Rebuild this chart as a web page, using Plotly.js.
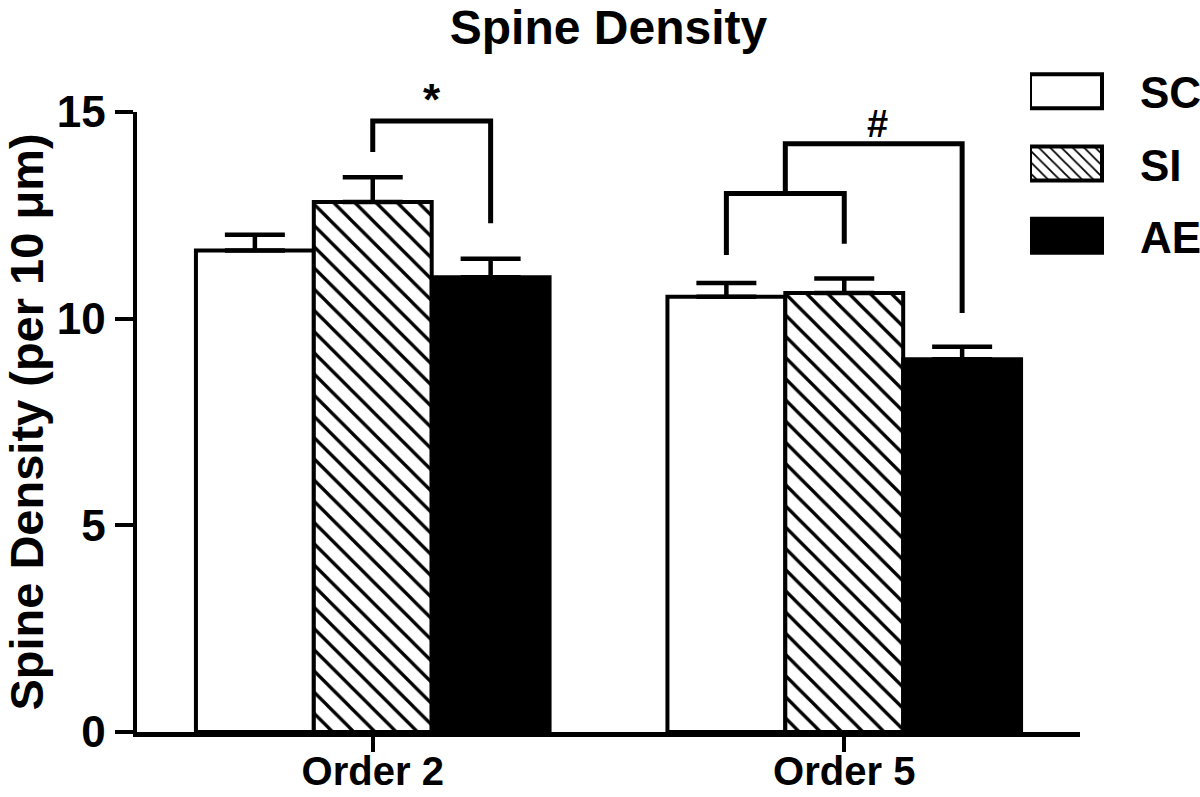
<!DOCTYPE html>
<html>
<head>
<meta charset="utf-8">
<script src="https://cdn.plot.ly/plotly-3.0.1.min.js"></script>
<style>html,body{margin:0;padding:0;background:#fff;}#chart{width:1200px;height:797px;}</style>
</head>
<body>
<div id="chart"></div>
<script>
// ---- data ----
const categories = ['Order 2', 'Order 5'];
const catPos = [0, 1];
const groupNames = ['SC', 'SI', 'AE'];
const scMean = [11.65, 10.53];
const scErr = [0.38, 0.33];
const siMean = [12.82, 10.62];
const siErr = [0.60, 0.35];
const aeMean = [11.00, 9.02];
const aeErr = [0.45, 0.30];
const yTicks = [0, 5, 10, 15];
const yMax = 15;

// significance brackets: [x0, x1, yLeftEnd, yTop, yRightEnd]
const brackets = [
  [0.00, 0.25, 14.03, 14.78, 12.31],
  [0.75, 1.00, 11.54, 13.03, 11.81],
  [0.875, 1.25, 13.03, 14.23, 10.14]
];
const sigLabels = ['*', '#'];
const sigX = [0.125, 1.07];
const sigY = [15.3, 14.72];

const FONT = 'Liberation Sans, Arial, sans-serif';
const zeros = [0, 0];

function barTrace(name, y, err, color, pattern) {
  const t = {
    type: 'bar', name: name, legendgroup: name, x: catPos, y: y,
    marker: {color: color, line: {color: '#000', width: 4}},
    error_y: {type: 'data', array: err, arrayminus: zeros, symmetric: false,
              color: '#000', thickness: 4.5, width: 30},
    hoverinfo: 'none'
  };
  if (pattern) t.marker.pattern = pattern;
  return t;
}

const traces = [
  barTrace(groupNames[0], scMean, scErr, '#ffffff'),
  barTrace(groupNames[1], siMean, siErr, '#ffffff',
           {shape: '\\', fgcolor: '#000', bgcolor: '#fff', size: 15, solidity: 0.22}),
  barTrace(groupNames[2], aeMean, aeErr, '#000000')
];

const shapes = brackets.map(b => ({
  type: 'path', xref: 'x', yref: 'y',
  path: 'M' + b[0] + ',' + b[2] + ' L' + b[0] + ',' + b[3] + ' L' + b[1] + ',' + b[3] + ' L' + b[1] + ',' + b[4],
  line: {color: '#000', width: 5}
}));

// labels above brackets: placed in y-domain units (value / yMax) so they may sit above the range
const annotations = sigLabels.map((s, i) => ({
  xref: 'x', yref: 'y domain', x: sigX[i], y: sigY[i] / yMax, text: s, showarrow: false,
  font: {family: FONT, size: i === 0 ? 44 : 38, color: '#000', weight: 'bold'},
  xanchor: 'center', yanchor: 'middle'
}));

const layout = {
  width: 1200, height: 797,
  margin: {l: 137, r: 120, t: 112, b: 65, pad: 0, autoexpand: false},
  paper_bgcolor: '#fff', plot_bgcolor: '#fff',
  font: {family: FONT, color: '#000', weight: 'bold'},
  title: {text: '<b>Spine Density</b>', x: 0.5, xref: 'paper', y: 0.966, yanchor: 'middle',
          font: {family: FONT, size: 48, color: '#000'}},
  barmode: 'group', bargap: 0.25, bargroupgap: 0,
  showlegend: true,
  legend: {x: 0.947, xanchor: 'left', y: 1.09, yanchor: 'top',
           font: {family: FONT, size: 44, color: '#000', weight: 'bold'},
           itemwidth: 100, tracegroupgap: 12, traceorder: 'grouped',
           bgcolor: 'rgba(0,0,0,0)', borderwidth: 0},
  xaxis: {type: 'linear', range: [-0.5, 1.5], tickvals: catPos, ticktext: categories,
          showline: true, linecolor: '#000', linewidth: 4.5,
          ticks: 'outside', ticklen: 15, tickwidth: 4, tickcolor: '#000',
          ticklabelstandoff: -15,
          tickfont: {family: FONT, size: 40, color: '#000', weight: 'bold'},
          showgrid: false, zeroline: false, fixedrange: true},
  yaxis: {range: [0, yMax], tickvals: yTicks, ticktext: yTicks.map(String),
          showline: true, linecolor: '#000', linewidth: 4.5,
          ticks: 'outside', ticklen: 18, tickwidth: 4, tickcolor: '#000',
          tickfont: {family: FONT, size: 44, color: '#000', weight: 'bold'},
          showgrid: false, zeroline: false, fixedrange: true,
          title: {text: '<b>Spine Density (per 10 μm)</b>', standoff: 12,
                  font: {family: FONT, size: 47, color: '#000'}}},
  shapes: shapes,
  annotations: annotations
};

function fixLegend() {
  document.querySelectorAll('.legend .legendpoints path').forEach(p => {
    p.setAttribute('d', 'M36,17H-36V-17H36Z');
    p.setAttribute('transform', 'translate(36,0)');
    p.style.strokeWidth = '4px';
    p.style.stroke = '#000';
  });
}

const gd = document.getElementById('chart');
Plotly.newPlot(gd, traces, layout, {displayModeBar: false, staticPlot: true}).then(() => {
  fixLegend();
  gd.on('plotly_afterplot', fixLegend);
});
</script>
</body>
</html>
